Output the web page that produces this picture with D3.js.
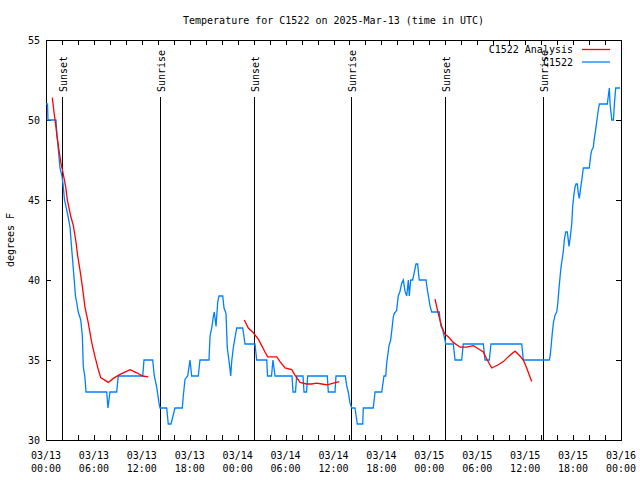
<!DOCTYPE html>
<html><head><meta charset="utf-8">
<script src="https://cdn.jsdelivr.net/npm/d3@7"></script>
<style>body{margin:0;background:#fff}text{font-family:"DejaVu Sans Mono",monospace;font-size:10px;fill:#000}</style>
</head><body><svg id="c" width="640" height="480"></svg>
<script>
// hours after 2025-03-13 00:00 UTC
const obsHours = [0,0.19,0.25,1.25,1.38,1.57,1.75,2.00,2.13,2.32,2.50,2.75,3.01,3.13,3.29,3.47,3.69,3.88,4.04,4.35,4.55,4.67,4.88,5.01,7.60,7.76,8.01,8.85,9.05,12.11,12.27,13.36,13.56,13.86,14.15,14.28,15.11,15.31,15.65,16.15,17.07,17.19,17.41,17.74,18.03,18.24,19.07,19.28,20.41,20.54,20.75,20.95,21.07,21.29,21.50,21.66,22.13,22.29,22.54,22.70,22.95,23.13,23.25,23.45,23.67,23.88,24.63,24.92,26.17,26.38,27.64,27.74,28.24,28.42,28.68,30.80,30.93,31.24,31.39,32.18,32.31,32.62,32.77,35.22,35.35,36.19,36.31,37.48,37.65,37.85,38.07,38.28,38.69,38.98,39.66,39.73,40.98,41.20,42.04,42.32,42.54,42.66,42.95,43.16,43.29,43.49,43.61,43.91,44.11,44.33,44.54,44.74,44.95,45.17,45.37,45.49,45.67,45.92,46.08,46.33,46.54,46.67,46.74,47.58,47.75,47.92,48.08,48.30,49.25,49.34,49.46,49.67,49.84,49.96,50.05,51.00,51.22,52.05,52.25,54.76,54.97,55.51,55.72,59.57,59.77,63.02,63.11,63.24,63.40,63.53,63.74,63.95,64.08,64.24,64.37,64.49,64.62,64.78,64.90,65.08,65.28,65.49,65.65,65.83,65.95,66.12,66.24,66.37,66.53,66.66,66.78,66.96,67.12,67.28,68.03,68.21,68.33,68.53,68.66,68.83,68.96,69.12,69.29,70.29,70.41,70.54,70.63,70.85,71.05,71.17,71.34,71.88];
const obsTemp = [51,51,50,50,49,48,47,46.5,46,45,44.6,44,43.3,42.5,41.5,40.4,39,38.5,38,37.5,36.5,34.6,33.9,33,33,32,33,33,34,34,35,35,34,33.3,32.3,32,32,31,31,32,32,32.75,33.8,34,35,34,34,35,35,36.5,37,37.7,38,37.1,38.6,39,39,38.25,37.9,35.75,34.8,34,34.9,35.75,36.4,37,37,36,36,35,35,34,34,35,34,34,33,33,34,34,33,33,34,34,33,33,34,34,33.4,33,32.3,32,32,31,31,32,32,33,33,34,34,34.8,35.9,36.25,36.8,37.7,37.9,38.1,39,39.3,39.8,40,39.3,39,40,39,40,40,40.4,41,41,40.3,40,40,39.4,38.9,38.4,38,38,37.5,37.1,36.9,36.5,36.25,36,36,35,35,36,36,35,35,36,36,35,35,35.2,35.8,36.7,37.3,37.8,38,38.5,39.5,40.2,40.8,41.25,41.8,42.5,43,43,42.1,42.7,43.5,44.6,45.4,45.8,46,46,45.4,45.1,45.8,46.35,47,47,47.8,48.1,48.3,48.85,49.4,49.9,50.5,51,51,51.5,52,51,50,50,51,52,52];
// analysis series, null separates runs
const anaHours = [0.79,1.00,1.21,1.41,1.63,1.84,2.17,2.47,2.67,3.09,3.42,3.72,3.97,4.26,4.55,4.88,5.30,5.72,6.14,6.55,6.85,7.80,8.43,9.27,10.52,11.36,12.11,12.81,null,
  24.83,25.33,25.96,26.58,27.01,27.42,27.76,28.89,29.30,29.93,30.77,31.18,31.81,32.64,33.27,33.90,34.52,35.22,35.98,36.73,null,
  48.71,49.12,49.55,49.96,50.38,51.00,51.84,52.68,53.51,54.13,54.76,55.26,55.81,56.64,57.26,58.10,58.73,59.35,59.77,60.19,60.82];
const anaTemp = [51.4,50.5,49.7,48.9,48.1,47.4,46.6,45.8,45,44,43.4,42.5,41.5,40.6,39.6,38.3,37.3,36.1,35.2,34.4,33.9,33.6,33.85,34.1,34.4,34.2,34.0,33.95,null,
  37.5,37,36.7,36.3,35.9,35.5,35.2,35.2,34.9,34.5,34.4,34.06,33.6,33.5,33.5,33.55,33.5,33.45,33.55,33.65,null,
  38.8,37.9,37.1,36.6,36.45,36.1,35.8,35.8,35.9,35.7,35.5,35,34.5,34.7,34.9,35.3,35.55,35.25,35,34.5,33.65];
const eventHours = [2.0,14.27,26.05,38.2,49.96,62.23];
const eventLabels = ["Sunset","Sunrise","Sunset","Sunrise","Sunset","Sunrise"];
const yTicks = [30,35,40,45,50,55];
const seriesNames = ["C1522 Analysis","C1522"];
const seriesColors = ["#ff0000","#0080ff"];
const titleText = "Temperature for C1522 on 2025-Mar-13 (time in UTC)";
const yLabel = "degrees F";

const t0 = Date.UTC(2025,2,13);
const toDate = h => new Date(t0 + h*3600e3);
const svg = d3.select("#c");
const L=46,R=621,T=40,B=440;
const x = d3.scaleUtc().domain([toDate(0),toDate(72)]).range([L,R]);
const y = d3.scaleLinear().domain([30,55]).range([B,T]);

// ticks
const minor = d3.utcHour.every(2).range(toDate(0),toDate(72.01));
const major = d3.utcHour.every(6).range(toDate(0),toDate(72.01));
const g = svg.append("g").attr("shape-rendering","crispEdges").attr("stroke","#000");
minor.forEach(d=>{const px=Math.round(x(d))+0.5;
  g.append("line").attr("x1",px).attr("x2",px).attr("y1",B).attr("y2",B-5);
  g.append("line").attr("x1",px).attr("x2",px).attr("y1",T).attr("y2",T+5);});
yTicks.forEach(v=>{const py=Math.round(y(v))+0.5;
  g.append("line").attr("x1",L).attr("x2",L+5).attr("y1",py).attr("y2",py);
  g.append("line").attr("x1",R).attr("x2",R-5).attr("y1",py).attr("y2",py);});
const fmtD=d3.utcFormat("%m/%d"), fmtT=d3.utcFormat("%H:%M");
major.forEach(d=>{
  svg.append("text").attr("x",x(d)).attr("y",459).attr("text-anchor","middle").text(fmtD(d));
  svg.append("text").attr("x",x(d)).attr("y",472).attr("text-anchor","middle").text(fmtT(d));
});
yTicks.forEach(v=>svg.append("text").attr("x",40).attr("y",y(v)+3.5).attr("text-anchor","end").text(v));

// events
eventHours.forEach((h,i)=>{
  const px=Math.round(x(toDate(h)))+0.5;
  g.append("line").attr("x1",px).attr("x2",px).attr("y1",97).attr("y2",B);
  svg.append("text").attr("transform",`translate(${px+4},92) rotate(-90)`).text(eventLabels[i]);
});

// data
const line = d3.line().defined(d=>d[0]!=null).x(d=>x(toDate(d[0]))).y(d=>y(d[1]));
svg.append("path").datum(obsHours.map((h,i)=>[h,obsTemp[i]]))
  .attr("d",line).attr("fill","none").attr("stroke",seriesColors[1]).attr("stroke-width",1.3);
svg.append("path").datum(anaHours.map((h,i)=>[h,anaTemp[i]]))
  .attr("d",line).attr("fill","none").attr("stroke",seriesColors[0]).attr("stroke-width",1.3);

// frame
g.append("rect").attr("x",L+0.5).attr("y",T+0.5).attr("width",R-L).attr("height",B-T).attr("fill","none");

// legend
seriesNames.forEach((n,i)=>{
  const ly=49.5+i*12.5;
  svg.append("text").attr("x",573).attr("y",ly+3.5).attr("text-anchor","end").text(n);
  svg.append("line").attr("x1",582).attr("x2",610).attr("y1",ly).attr("y2",ly).attr("stroke",seriesColors[i]).attr("stroke-width",1.3);
});

svg.append("text").attr("x",(L+R)/2).attr("y",24).attr("text-anchor","middle").text(titleText);
svg.append("text").attr("transform","translate(14,240) rotate(-90)").attr("text-anchor","middle").text(yLabel);
</script></body></html>
